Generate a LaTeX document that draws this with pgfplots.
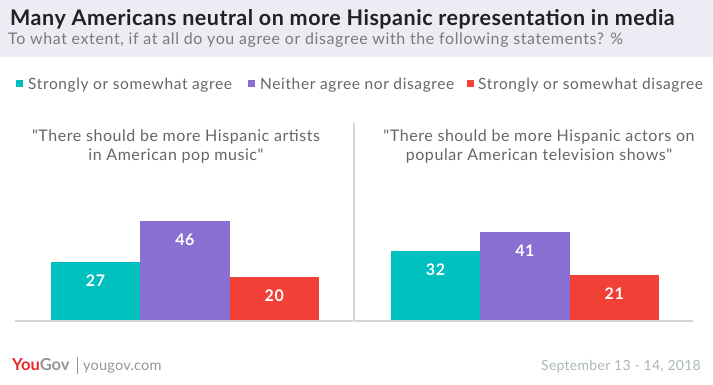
\documentclass[border=0pt]{standalone}
\usepackage{fontspec}
\setmainfont{Lato}[Ligatures=TeXOff]
\usepackage{pgfplots}
\pgfplotsset{compat=1.18}
\definecolor{teal1}{RGB}{0,192,191}
\definecolor{purp1}{RGB}{137,111,209}
\definecolor{red1}{RGB}{241,64,54}
\definecolor{hdr}{RGB}{237,236,244}
\definecolor{ttl}{RGB}{33,33,33}
\definecolor{sub}{RGB}{122,122,122}
\definecolor{leg}{RGB}{102,102,102}
\definecolor{lin}{RGB}{212,212,212}
\definecolor{datec}{RGB}{172,182,184}
\definecolor{ygred}{RGB}{232,38,43}
\definecolor{yggrey}{RGB}{150,150,150}
\newcommand{\fs}[2]{\fontsize{#1}{#1}\selectfont\addfontfeatures{LetterSpace=#2}}
\pgfplotsset{
  panel/.style={
    scale only axis, width=338pt, height=107.5pt,
    xmin=-0.9, xmax=2.88, ymin=0, ymax=50,
    hide axis, clip=false,
    ybar, bar width=1, bar shift=0pt,
    /pgf/number format/assume math mode=true,
    nodes near coords,
    every node near coord/.append style={anchor=center, yshift=-18.5pt, text=white, font=\bfseries\fs{16}{4}},
    anchor=south west,
  },
}
\begin{document}
\begin{tikzpicture}[x=1pt,y=1pt]
\useasboundingbox (0,0) rectangle (713,384);
\fill[white] (0,0) rectangle (713,384);
\fill[hdr] (0,327) rectangle (713,384);
\node[anchor=base west, inner sep=0, text=ttl, font=\bfseries\fs{21.5}{2.4}] at (10,359) {Many Americans neutral on more Hispanic representation in media};
\node[anchor=base west, inner sep=0, text=sub, font=\fs{16}{3.8}] at (8,339) {To what extent, if at all do you agree or disagree with the following statements? \%};
% legend
\fill[teal1] (16,297) rectangle (23,304);
\node[anchor=base west, inner sep=0, text=leg, font=\fs{15.5}{4}] at (28,295) {Strongly or somewhat agree};
\fill[purp1] (248,297) rectangle (255,304);
\node[anchor=base west, inner sep=0, text=leg, font=\fs{15.5}{4}] at (260,295) {Neither agree nor disagree};
\fill[red1] (467,297) rectangle (474,304);
\node[anchor=base west, inner sep=0, text=leg, font=\fs{15.5}{4}] at (478,295) {Strongly or somewhat disagree};
% panel titles
\node[anchor=base, inner sep=0, text=leg, font=\fs{16}{3.5}] at (176,243) {"There should be more Hispanic artists};
\node[anchor=base, inner sep=0, text=leg, font=\fs{16}{3.5}] at (176,224) {in American pop music"};
\node[anchor=base, inner sep=0, text=leg, font=\fs{16}{3.5}] at (539,243) {"There should be more Hispanic actors on};
\node[anchor=base, inner sep=0, text=leg, font=\fs{16}{3.5}] at (539,224) {popular American television shows"};
% divider
\draw[lin, line width=2pt] (353.5,261) -- (353.5,63);
\begin{axis}[panel, at={(15pt,64pt)}]
\draw[lin, line width=2pt] ([yshift=-1pt]axis cs:-0.9,0) -- ([yshift=-1pt]axis cs:2.88,0);
\addplot[fill=teal1, draw=none] coordinates {(0,27)};
\addplot[fill=purp1, draw=none] coordinates {(1,46)};
\addplot[fill=red1, draw=none] coordinates {(2,20)};
\end{axis}
\begin{axis}[panel, at={(355pt,64pt)}]
\draw[lin, line width=2pt] ([yshift=-1pt]axis cs:-0.9,0) -- ([yshift=-1pt]axis cs:2.88,0);
\addplot[fill=teal1, draw=none] coordinates {(0,32)};
\addplot[fill=purp1, draw=none] coordinates {(1,41)};
\addplot[fill=red1, draw=none] coordinates {(2,21)};
\end{axis}
% footer
\node[anchor=base west, inner sep=0, font=\bfseries\fs{16.5}{0}] at (12,14) {\textcolor{ygred}{You}\textcolor{yggrey}{Gov}};
\draw[yggrey, line width=0.8pt] (77,10) -- (77,27);
\node[anchor=base west, inner sep=0, text=yggrey, font=\fs{14.5}{1.5}] at (83,14) {yougov.com};
\node[anchor=base east, inner sep=0, text=datec, font=\fs{14}{2}] at (701,14) {September 13 - 14, 2018};
\end{tikzpicture}
\end{document}
